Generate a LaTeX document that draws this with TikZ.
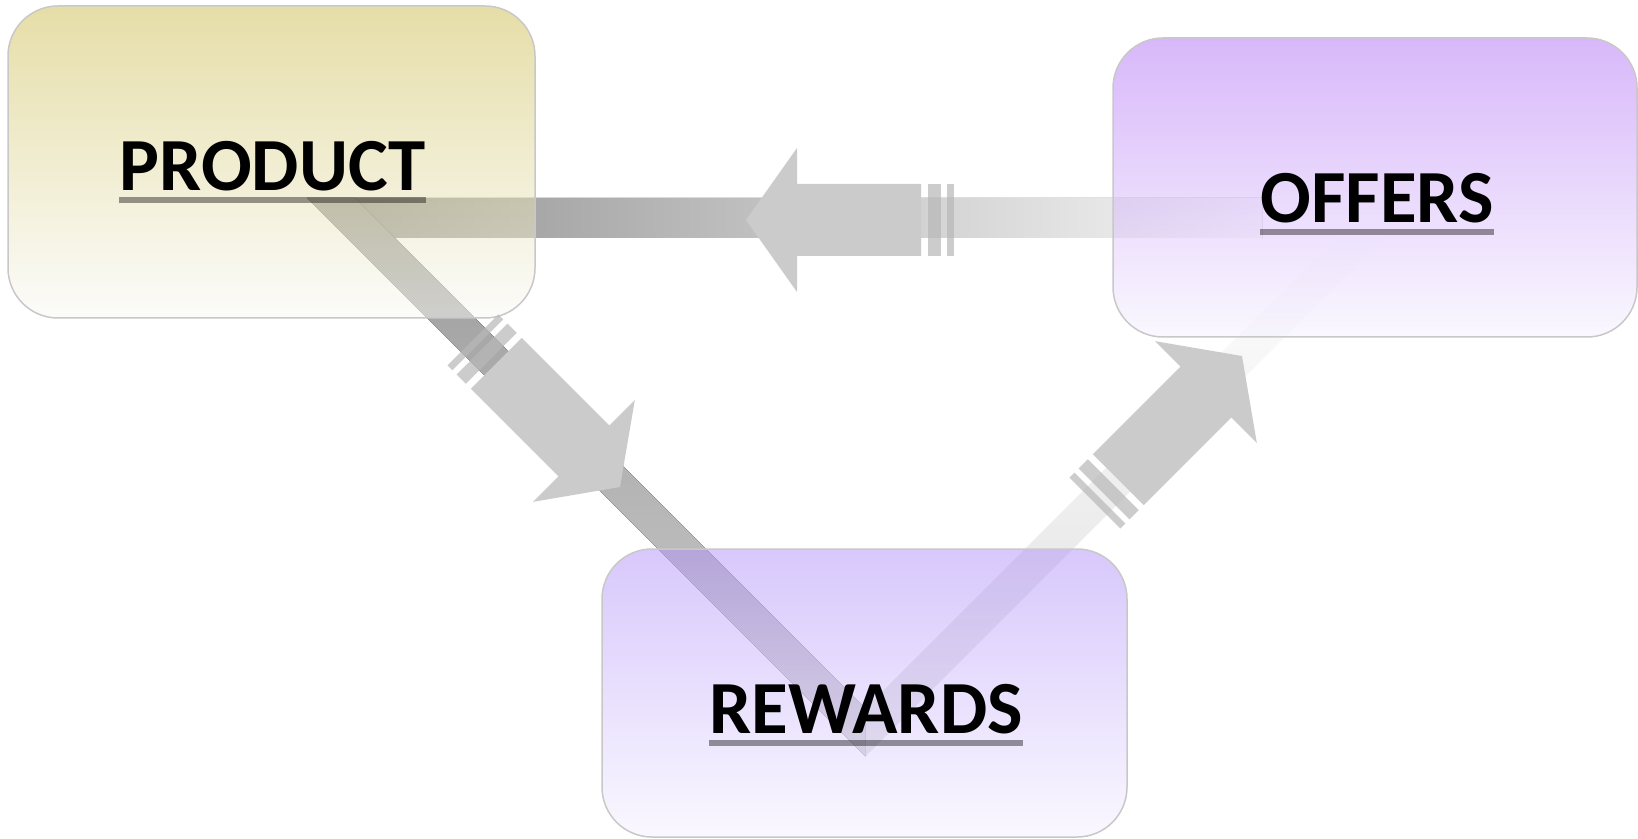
\documentclass[tikz,border=0pt]{standalone}
\usepackage{fontspec}
\setmainfont{Carlito}
\usepackage{tikz}
\usetikzlibrary{calc,positioning,fadings}
\definecolor{boxline}{RGB}{200,200,200}
\definecolor{productcol}{RGB}{205,189,81}
\definecolor{productbot}{RGB}{249,249,245}
\definecolor{offerscol}{RGB}{177,113,245}
\definecolor{rewardscol}{RGB}{177,145,249}
\definecolor{purplebot}{RGB}{245,241,255}
\definecolor{shaftdark}{RGB}{142,142,142}
\definecolor{shaftmid}{RGB}{204,204,204}
\definecolor{shaftlight}{RGB}{248,248,248}
\definecolor{shafttop}{RGB}{155,155,155}
\definecolor{shaftcen}{RGB}{198,198,198}
\definecolor{shaftbot}{RGB}{205,205,205}
\definecolor{shaftpale}{RGB}{222,222,222}
\definecolor{arrowgray}{RGB}{203,203,203}
\definecolor{bargray}{RGB}{184,184,184}
\tikzfading[name=fadeup, top color=transparent!100, bottom color=transparent!0]

\begin{document}
\begin{tikzpicture}[x=0.5pt,y=-0.5pt,
box/.style={rectangle,rounded corners=25pt,draw=boxline,line width=0.75pt,fill opacity=0.5},
lbl/.style={inner sep=0pt,anchor=base,font=\fontsize{37.5pt}{45pt}\selectfont\bfseries},
uline/.style={line width=3pt,draw=black,draw opacity=0.4},
bighead/.style={fill=arrowgray},
breakbar/.style={fill=bargray,fill opacity=0.72},
brokenarrow/.pic={
 \fill[bighead] (0,0) -- (-51,72) -- (-51,36) -- (-175,36) -- (-175,-36) -- (-51,-36) -- (-51,-72) -- cycle;
 \fill[breakbar] (-182,-36) rectangle (-195,36);
 \fill[breakbar] (-201,-36) rectangle (-208,36);
}]
\useasboundingbox (0,0) rectangle (1638,839);

\coordinate (pc) at (351,218);
\coordinate (rv) at (865.5,732.5);
\coordinate (oe) at (1262,218);
\coordinate (oe3) at (1366,232);

\fill[left color=shaftdark,middle color=shaftmid,right color=shaftlight]
  ($(pc)+(-44,-20)$) -- ($(oe)+(0,-20)$) -- ($(oe)+(0,20)$) -- ($(pc)+(44,20)$) -- cycle;
\fill[top color=shafttop,middle color=shaftcen,bottom color=shaftbot]
  ($(pc)+(-44,-20)$) -- ($(pc)+(4,-20)$) -- ($(rv)+(0,-24)$) -- ($(rv)+(0,24)$) -- cycle;
\fill[shaftpale,path fading=fadeup]
  ($(rv)+(0,24)$) -- ($(rv)+(0,-24)$) -- ($(oe3)+(-24,0)$) -- ($(oe3)+(24,0)$) -- cycle;

\node[box,top color=productcol,bottom color=productbot,minimum width=263.5pt,minimum height=156pt] (product) at (271.5,162) {};
\node[box,top color=offerscol,bottom color=purplebot,minimum width=262pt,minimum height=149.5pt] (offers) at (1375,187.5) {};
\node[box,top color=rewardscol,bottom color=purplebot,minimum width=262.5pt,minimum height=144pt] (rewards) at (864.5,693) {};

\coordinate (tipoffers) at (746,220);
\coordinate (tipproduct) at (620,487);
\coordinate (tiprewards) at (1242,356);
\pic[rotate=180] at (tipoffers) {brokenarrow};
\pic[rotate=-45] at (tipproduct) {brokenarrow};
\pic[rotate=45] at (tiprewards) {brokenarrow};

\node[lbl] (productlbl) at (272.5,191) {PRODUCT};
\node[lbl] (offerslbl) at (1377,222.5) {OFFERS};
\node[lbl] (rewardslbl) at (866,733) {REWARDS};
\draw[uline] ($(productlbl.base west)+(0,9.5)$) -- ($(productlbl.base east)+(0,9.5)$);
\draw[uline] ($(offerslbl.base west)+(0,9.5)$) -- ($(offerslbl.base east)+(0,9.5)$);
\draw[uline] ($(rewardslbl.base west)+(0,9.5)$) -- ($(rewardslbl.base east)+(0,9.5)$);
\end{tikzpicture}
\end{document}
